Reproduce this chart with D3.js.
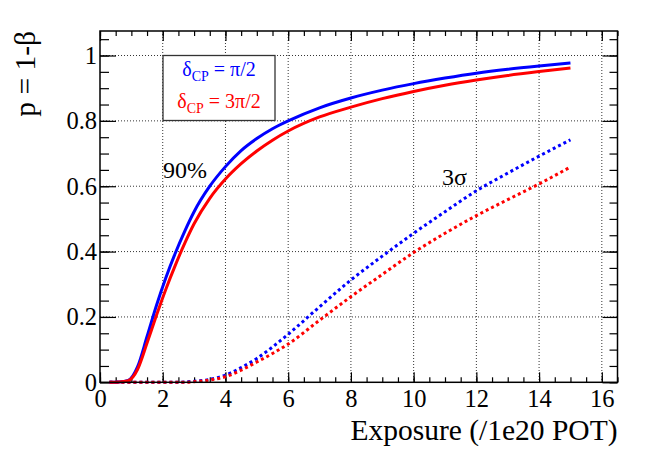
<!DOCTYPE html>
<html>
<head>
<meta charset="utf-8">
<script src="https://cdn.jsdelivr.net/npm/d3@7"></script>
<style>
  body { margin: 0; background: #fff; }
  svg { display: block; }
  svg text { font-family: "Liberation Serif", "Times New Roman", Tinos, "Noto Serif", "DejaVu Serif", serif; }
</style>
</head>
<body>
<div id="chart"></div>
<script>
// exposure points (1e20 POT)
const exposure = [0.3, 0.6, 0.9, 1.2, 1.5, 1.8, 2.1, 2.4, 2.7, 3.0, 3.5, 4.0, 4.5, 5.0, 5.5, 6.0, 7, 8, 9, 10, 11, 12, 13, 14, 15];
// p = 1-beta, 90% CL
const p90Half      = [0, 0.001, 0.006, 0.048, 0.140, 0.235, 0.320, 0.395, 0.462, 0.522, 0.600, 0.660, 0.709, 0.746, 0.776, 0.800, 0.840, 0.870, 0.894, 0.914, 0.931, 0.946, 0.958, 0.968, 0.977];
const p90ThreeHalf = [0, 0.001, 0.005, 0.040, 0.120, 0.205, 0.285, 0.358, 0.425, 0.485, 0.563, 0.622, 0.669, 0.708, 0.741, 0.769, 0.812, 0.842, 0.868, 0.890, 0.909, 0.925, 0.939, 0.951, 0.962];
// p = 1-beta, 3 sigma
const p3sHalf      = [0, 0, 0, 0, 0, 0, 0, 0, 0.001, 0.003, 0.009, 0.022, 0.045, 0.073, 0.108, 0.147, 0.231, 0.313, 0.386, 0.456, 0.522, 0.586, 0.640, 0.692, 0.742];
const p3sThreeHalf = [0, 0, 0, 0, 0, 0, 0, 0, 0, 0.002, 0.007, 0.017, 0.037, 0.062, 0.088, 0.117, 0.190, 0.262, 0.330, 0.397, 0.456, 0.510, 0.559, 0.607, 0.659];

const xTicks = [0, 2, 4, 6, 8, 10, 12, 14, 16];
const yTicks = [0, 0.2, 0.4, 0.6, 0.8, 1];
const yTickLabels = ["0", "0.2", "0.4", "0.6", "0.8", "1"];

(function () {
  const W = 664, H = 450;
  const frame = { left: 100, right: 617.5, top: 31, bottom: 382.3 };
  const blue = "#0000ff";
  const red = "#ff0000";

  const svg = d3.select("#chart").append("svg")
    .attr("width", W).attr("height", H);

  const x = d3.scaleLinear().domain([0, 16.5]).range([frame.left, frame.right]);
  const y = d3.scaleLinear().domain([0, 1.075]).range([frame.bottom, frame.top]);

  // grid
  const grid = svg.append("g")
    .attr("stroke", "#000").attr("stroke-width", 0.8).attr("stroke-dasharray", "1,2");
  xTicks.filter((d) => d > 0).forEach((d) => {
    grid.append("line").attr("x1", x(d)).attr("x2", x(d))
      .attr("y1", frame.top).attr("y2", frame.bottom);
  });
  yTicks.filter((d) => d > 0).forEach((d) => {
    grid.append("line").attr("x1", frame.left).attr("x2", frame.right)
      .attr("y1", y(d)).attr("y2", y(d));
  });

  // axes
  const xMinor = d3.range(0, 16.51, 0.5);
  const yMinor = d3.range(0, 1.076, 0.05);

  function tidy(g) {
    g.attr("font-family", null);
    g.select(".domain").remove();
    g.selectAll("line").attr("stroke", "#000").attr("stroke-width", 1.2);
    g.selectAll("text").attr("font-size", 24.5).attr("fill", "#000");
  }

  svg.append("g").attr("transform", `translate(0,${frame.bottom})`)
    .call(d3.axisBottom(x).tickValues(xMinor).tickSize(-5).tickFormat(""))
    .call(tidy);
  svg.append("g").attr("transform", `translate(0,${frame.bottom})`)
    .call(d3.axisBottom(x).tickValues(xTicks).tickSize(-10).tickPadding(7).tickFormat(d3.format("d")))
    .call(tidy);

  svg.append("g").attr("transform", `translate(0,${frame.top})`)
    .call(d3.axisTop(x).tickValues(xMinor).tickSize(-5).tickFormat(""))
    .call(tidy);
  svg.append("g").attr("transform", `translate(0,${frame.top})`)
    .call(d3.axisTop(x).tickValues(xTicks).tickSize(-10).tickFormat(""))
    .call(tidy);

  svg.append("g").attr("transform", `translate(${frame.left},0)`)
    .call(d3.axisLeft(y).tickValues(yMinor).tickSize(-9).tickFormat(""))
    .call(tidy);
  svg.append("g").attr("transform", `translate(${frame.left},0)`)
    .call(d3.axisLeft(y).tickValues(yTicks).tickSize(-16).tickPadding(3)
      .tickFormat((d, i) => yTickLabels[i]))
    .call(tidy);

  svg.append("g").attr("transform", `translate(${frame.right},0)`)
    .call(d3.axisRight(y).tickValues(yMinor).tickSize(-8).tickFormat(""))
    .call(tidy);
  svg.append("g").attr("transform", `translate(${frame.right},0)`)
    .call(d3.axisRight(y).tickValues(yTicks).tickSize(-15).tickFormat(""))
    .call(tidy);

  // curves
  const line = d3.line()
    .x((d) => x(d[0]))
    .y((d) => y(d[1]))
    .curve(d3.curveMonotoneX);

  const series = [
    { values: p3sHalf, color: blue, dash: "3,3" },
    { values: p3sThreeHalf, color: red, dash: "3,3" },
    { values: p90Half, color: blue, dash: null },
    { values: p90ThreeHalf, color: red, dash: null },
  ];
  series.forEach((s) => {
    svg.append("path")
      .datum(exposure.map((e, i) => [e, s.values[i]]))
      .attr("fill", "none")
      .attr("stroke", s.color)
      .attr("stroke-width", 3)
      .attr("stroke-dasharray", s.dash)
      .attr("d", line);
  });

  // frame
  svg.append("rect")
    .attr("x", frame.left).attr("y", frame.top)
    .attr("width", frame.right - frame.left).attr("height", frame.bottom - frame.top)
    .attr("fill", "none").attr("stroke", "#000").attr("stroke-width", 1.5);

  // legend box
  const legend = svg.append("g");
  legend.append("rect")
    .attr("x", 163).attr("y", 55.5).attr("width", 112).attr("height", 65)
    .attr("fill", "#fff").attr("stroke", "#333").attr("stroke-width", 1.3);
  [
    { color: blue, value: " = \u03c0/2", yy: 76 },
    { color: red, value: " = 3\u03c0/2", yy: 108 },
  ].forEach((d) => {
    const t = legend.append("text")
      .attr("x", 219).attr("y", d.yy)
      .attr("text-anchor", "middle")
      .attr("font-size", 20)
      .attr("fill", d.color);
    t.append("tspan").text("\u03b4");
    t.append("tspan").attr("font-size", 14).attr("dy", 5).text("CP");
    t.append("tspan").attr("dy", -5).text(d.value);
  });

  // annotations
  svg.append("text").attr("x", 163).attr("y", 178)
    .attr("font-size", 24).text("90%");
  svg.append("text").attr("x", 442).attr("y", 185)
    .attr("font-size", 24).text("3\u03c3");

  // axis titles
  svg.append("text")
    .attr("x", frame.right).attr("y", 440)
    .attr("text-anchor", "end")
    .attr("font-size", 29.5)
    .text("Exposure (/1e20 POT)");
  svg.append("text")
    .attr("transform", `translate(35,${frame.top}) rotate(-90)`)
    .attr("text-anchor", "end")
    .attr("font-size", 29.5)
    .text("p = 1-\u03b2");
})();
</script>
</body>
</html>
